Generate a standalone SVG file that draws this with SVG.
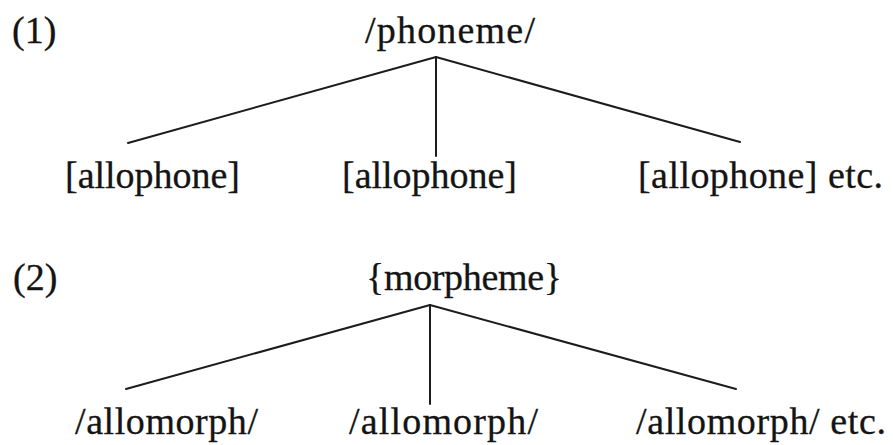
<svg xmlns="http://www.w3.org/2000/svg" width="893" height="445" viewBox="0 0 893 445">
<style>
text { font-family: "Liberation Serif", "Times New Roman", serif; font-size: 38px; fill: #141414; stroke: #141414; stroke-width: 0.3px; }
.edge { stroke: #1c1c1c; stroke-width: 2; fill: none; stroke-linecap: round; }
</style>
<rect width="893" height="445" fill="#ffffff"/>
<g id="connectors">
  <line class="edge" x1="436" y1="57" x2="128" y2="143"/>
  <line class="edge" x1="436" y1="57" x2="436" y2="156"/>
  <line class="edge" x1="436" y1="57" x2="740" y2="142"/>
  <line class="edge" x1="430" y1="305" x2="126" y2="389"/>
  <line class="edge" x1="430" y1="305" x2="430" y2="404"/>
  <line class="edge" x1="430" y1="305" x2="736" y2="389"/>
</g>
<g font-family="'Liberation Serif', serif">
<g id="label1"><text x="12" y="43">(1)</text></g>
<g id="phoneme"><text x="365" y="43" textLength="170">/phoneme/</text></g>
<g id="allophone1"><text x="65" y="188" textLength="175">[allophone]</text></g>
<g id="allophone2"><text x="342" y="188" textLength="175">[allophone]</text></g>
<g id="allophone3"><text x="638" y="188" textLength="245">[allophone] etc.</text></g>
<g id="label2"><text x="13" y="290">(2)</text></g>
<g id="morpheme"><text x="366" y="290" textLength="196">{morpheme}</text></g>
<g id="allomorph1"><text x="75" y="434" textLength="183">/allomorph/</text></g>
<g id="allomorph2"><text x="349" y="434" textLength="189">/allomorph/</text></g>
<g id="allomorph3"><text x="636" y="434" textLength="250">/allomorph/ etc.</text></g>
</g>
</svg>
